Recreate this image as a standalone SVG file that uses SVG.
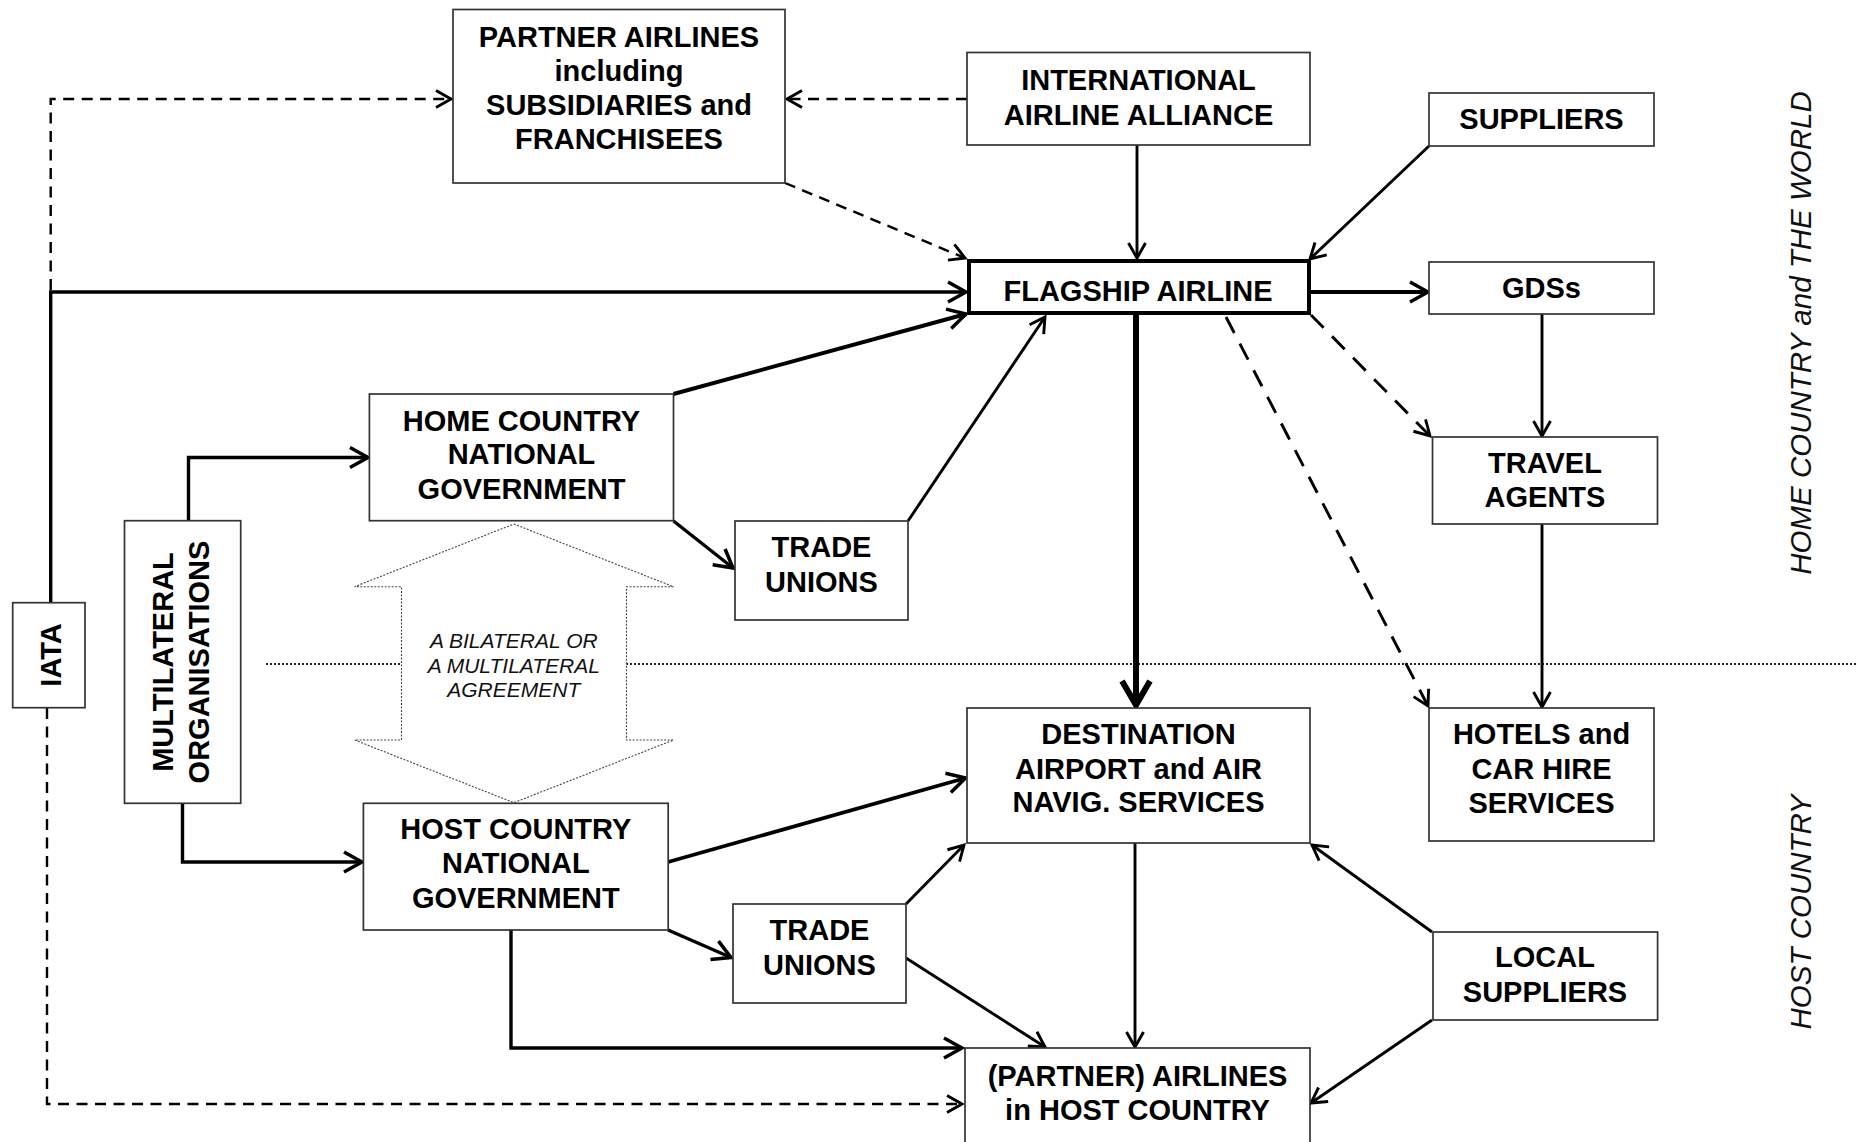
<svg xmlns="http://www.w3.org/2000/svg" width="1857" height="1142" viewBox="0 0 1857 1142">
<style>
  .box{fill:#fff;stroke:#333;stroke-width:1.7}
  .t{font-family:"Liberation Sans",Arial,sans-serif;font-weight:bold;font-size:29px;fill:#000;text-anchor:middle}
  .it{font-family:"Liberation Sans",Arial,sans-serif;font-style:italic;font-size:21px;fill:#111;text-anchor:middle}
  .lbl{font-family:"Liberation Sans",Arial,sans-serif;font-style:italic;font-size:29.5px;fill:#111;text-anchor:middle}
  .c{fill:none;stroke:#000;stroke-width:2.9}
  .cm{fill:none;stroke:#000;stroke-width:3.4}
  .ck{fill:none;stroke:#000;stroke-width:6}
  .d{fill:none;stroke:#000;stroke-width:2.4;stroke-dasharray:11 7.5}
  .dl{fill:none;stroke:#000;stroke-width:2.9;stroke-dasharray:18 12}
</style>
<defs>
  <marker id="a" viewBox="-30 -20 40 40" markerWidth="40" markerHeight="40" refX="0" refY="0" orient="auto" markerUnits="userSpaceOnUse">
    <path d="M-15,-8.5 L0,0 L-15,8.5" fill="none" stroke="#000" stroke-width="2.9"/>
  </marker>
  <marker id="am" viewBox="-30 -20 40 40" markerWidth="40" markerHeight="40" refX="0" refY="0" orient="auto" markerUnits="userSpaceOnUse">
    <path d="M-18,-10 L0,0 L-18,10" fill="none" stroke="#000" stroke-width="3.5"/>
  </marker>
  <marker id="ab" viewBox="-30 -20 40 40" markerWidth="40" markerHeight="40" refX="0" refY="0" orient="auto" markerUnits="userSpaceOnUse">
    <path d="M-24,-14 L0,0 L-24,14" fill="none" stroke="#000" stroke-width="6"/>
  </marker>
</defs>
<rect width="1857" height="1142" fill="#fff"/>

<g id="regions">
  <line x1="266" y1="664" x2="1857" y2="664" stroke="#222" stroke-width="2" stroke-dasharray="2 2"/>
  <text class="lbl" transform="translate(1811,333) rotate(-90)">HOME COUNTRY and THE WORLD</text>
  <text class="lbl" transform="translate(1811,912) rotate(-90)">HOST COUNTRY</text>
</g>

<g id="agreement">
  <polygon points="513.8,524 673.5,586.7 626.5,586.7 626.5,740 673.5,740 513.8,802.7 354.6,740 401.5,740 401.5,586.7 354.6,586.7" fill="#fff" stroke="#444" stroke-width="1.1" stroke-dasharray="2 1.5"/>
  <text class="it" x="513.8" y="648.3">A BILATERAL OR</text>
  <text class="it" x="513.8" y="672.7">A MULTILATERAL</text>
  <text class="it" x="513.8" y="697">AGREEMENT</text>
</g>

<g id="connectors">
  <path class="cm" d="M50.7,603 V292 H966" marker-end="url(#am)"/>
  <path class="d" d="M50.7,290 V99 H451" marker-end="url(#a)"/>
  <path class="d" d="M47,708 V1104 H962" marker-end="url(#a)"/>
  <path class="d" d="M967,99 H787" marker-end="url(#a)"/>
  <path class="c" d="M1137,145 V258" marker-end="url(#a)"/>
  <path class="d" d="M785,183 L965,258" marker-end="url(#a)"/>
  <path class="c" d="M1429,146 L1310,259" marker-end="url(#a)"/>
  <path class="cm" d="M1311,292 H1428" style="stroke-width:4.2" marker-end="url(#am)"/>
  <path class="cm" d="M673.5,394 L966,314" style="stroke-width:4" marker-end="url(#am)"/>
  <path class="c" d="M908,521 L1045,317" marker-end="url(#a)"/>
  <path class="cm" d="M673.5,521 L733,568" marker-end="url(#am)"/>
  <path class="cm" d="M188.5,521 V457.5 H368" marker-end="url(#am)"/>
  <path class="cm" d="M182.5,803 V862 H362" marker-end="url(#am)"/>
  <path class="ck" d="M1136,315 V705" marker-end="url(#ab)"/>
  <path class="dl" d="M1311,315 L1430,436" marker-end="url(#a)"/>
  <path class="dl" d="M1226,317 L1428,706" marker-end="url(#a)"/>
  <path class="c" d="M1542,314 V436" marker-end="url(#a)"/>
  <path class="c" d="M1542,524 V707" marker-end="url(#a)"/>
  <path class="cm" d="M668,862 L965.5,778" style="stroke-width:3.8" marker-end="url(#am)"/>
  <path class="cm" d="M668,930 L731,957.5" marker-end="url(#am)"/>
  <path class="cm" d="M511,930 V1048 H962" marker-end="url(#am)"/>
  <path class="c" d="M906,904 L964,845" marker-end="url(#a)"/>
  <path class="c" d="M906,958 L1045,1047" marker-end="url(#a)"/>
  <path class="c" d="M1135,843 V1047" marker-end="url(#a)"/>
  <path class="c" d="M1432,932 L1312,845" marker-end="url(#a)"/>
  <path class="c" d="M1432,1020 L1311,1103" marker-end="url(#a)"/>
</g>

<g id="partner-airlines">
  <rect class="box" x="453" y="9.5" width="332" height="173.5"/>
  <text class="t" x="619" y="47">PARTNER AIRLINES</text>
  <text class="t" x="619" y="81">including</text>
  <text class="t" x="619" y="114.5">SUBSIDIARIES and</text>
  <text class="t" x="619" y="148.5">FRANCHISEES</text>
</g>
<g id="alliance">
  <rect class="box" x="967" y="52.5" width="343" height="92.5"/>
  <text class="t" x="1138.5" y="90">INTERNATIONAL</text>
  <text class="t" x="1138.5" y="125">AIRLINE ALLIANCE</text>
</g>
<g id="suppliers">
  <rect class="box" x="1429" y="93" width="225" height="53"/>
  <text class="t" x="1541.5" y="129">SUPPLIERS</text>
</g>
<g id="flagship">
  <rect x="969" y="261" width="340" height="52" fill="#fff" stroke="#000" stroke-width="4"/>
  <text class="t" x="1138" y="301">FLAGSHIP AIRLINE</text>
</g>
<g id="gds">
  <rect class="box" x="1429" y="262" width="225" height="52"/>
  <text class="t" x="1541.5" y="298">GDSs</text>
</g>
<g id="travel-agents">
  <rect class="box" x="1432.5" y="437" width="225" height="87"/>
  <text class="t" x="1545" y="473.3">TRAVEL</text>
  <text class="t" x="1545" y="507.3">AGENTS</text>
</g>
<g id="hotels">
  <rect class="box" x="1429" y="708" width="225" height="133"/>
  <text class="t" x="1541.5" y="744">HOTELS and</text>
  <text class="t" x="1541.5" y="779">CAR HIRE</text>
  <text class="t" x="1541.5" y="812.5">SERVICES</text>
</g>
<g id="destination">
  <rect class="box" x="967" y="708" width="343" height="135"/>
  <text class="t" x="1138.5" y="744">DESTINATION</text>
  <text class="t" x="1138.5" y="779">AIRPORT and AIR</text>
  <text class="t" x="1138.5" y="812">NAVIG. SERVICES</text>
</g>
<g id="local-suppliers">
  <rect class="box" x="1433" y="932" width="224.6" height="88"/>
  <text class="t" x="1545" y="966.7">LOCAL</text>
  <text class="t" x="1545" y="1001.7">SUPPLIERS</text>
</g>
<g id="partner-host">
  <rect class="box" x="965" y="1048" width="345" height="102"/>
  <text class="t" x="1137.5" y="1086">(PARTNER) AIRLINES</text>
  <text class="t" x="1137.5" y="1120">in HOST COUNTRY</text>
</g>
<g id="home-government">
  <rect class="box" x="369.4" y="394" width="304.1" height="126.7"/>
  <text class="t" x="521.5" y="430.7">HOME COUNTRY</text>
  <text class="t" x="521.5" y="464.3">NATIONAL</text>
  <text class="t" x="521.5" y="499">GOVERNMENT</text>
</g>
<g id="home-unions">
  <rect class="box" x="735" y="521" width="173" height="99"/>
  <text class="t" x="821.5" y="556.7">TRADE</text>
  <text class="t" x="821.5" y="591.7">UNIONS</text>
</g>
<g id="host-government">
  <rect class="box" x="363.4" y="803.3" width="304.8" height="126.7"/>
  <text class="t" x="515.8" y="839.3">HOST COUNTRY</text>
  <text class="t" x="515.8" y="873.3">NATIONAL</text>
  <text class="t" x="515.8" y="908.3">GOVERNMENT</text>
</g>
<g id="host-unions">
  <rect class="box" x="733" y="904" width="173" height="99"/>
  <text class="t" x="819.5" y="940">TRADE</text>
  <text class="t" x="819.5" y="975">UNIONS</text>
</g>
<g id="multilateral">
  <rect class="box" x="124.5" y="520.7" width="116.2" height="282.6"/>
  <text class="t" transform="translate(173,662) rotate(-90)">MULTILATERAL</text>
  <text class="t" transform="translate(208.5,662) rotate(-90)">ORGANISATIONS</text>
</g>
<g id="iata">
  <rect class="box" x="12.7" y="602.7" width="72.3" height="105"/>
  <text class="t" transform="translate(60.7,655) rotate(-90)">IATA</text>
</g>
</svg>
